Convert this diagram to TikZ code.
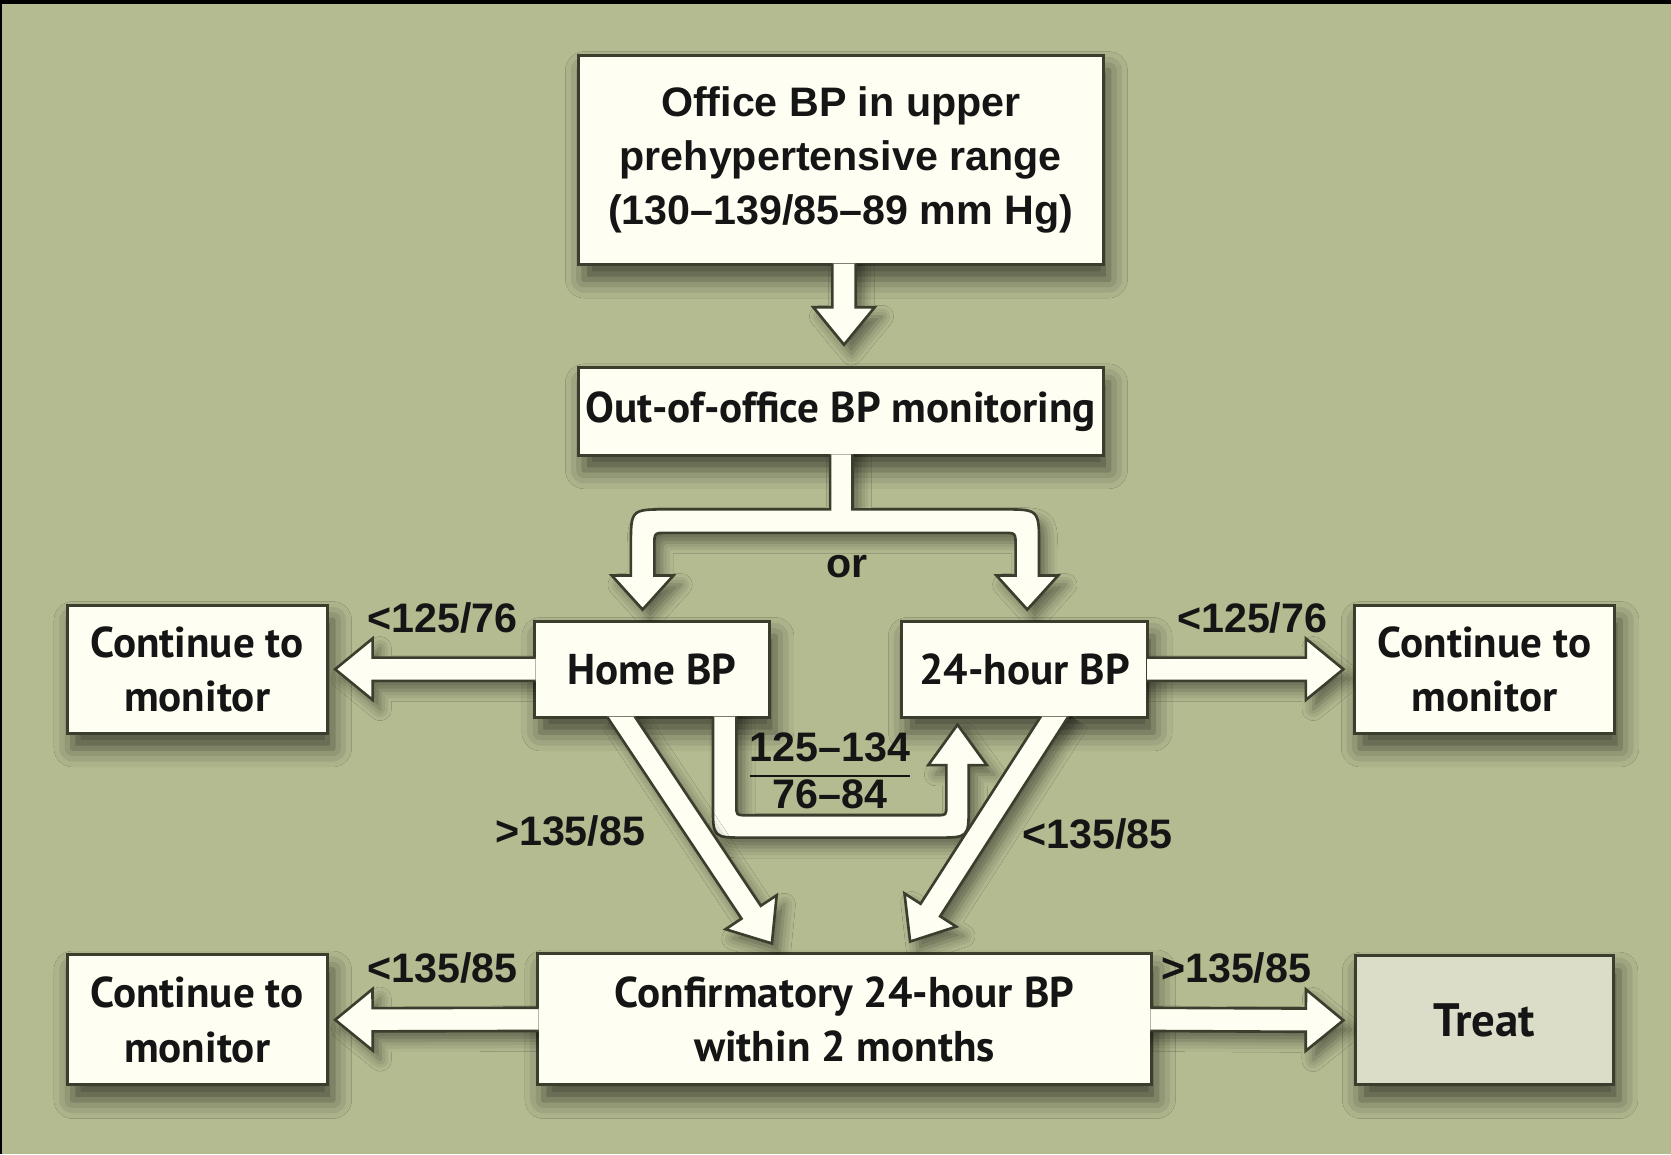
\documentclass[tikz,border=0pt]{standalone}
\usepackage{fontspec}
\setmainfont{Liberation Sans}
\newfontfamily\boxfont{PT Sans}
\usetikzlibrary{calc,shadows.blur}
\definecolor{bgolive}{HTML}{B4BB91}
\definecolor{boxcream}{HTML}{FFFEF3}
\definecolor{treatgray}{HTML}{DCDDC9}
\definecolor{edgedark}{HTML}{3B3D2D}
\definecolor{inkblack}{HTML}{151515}

\begin{document}
\begin{tikzpicture}[x=0.01cm, y=-0.01cm,
    box/.style={rectangle, draw=edgedark, line width=0.8pt, fill=boxcream, text=inkblack, align=center, inner sep=0pt,
        font=\boxfont\bfseries\fontsize{11.5}{14.5}\selectfont,
        blur shadow={shadow xshift=1.5pt, shadow yshift=-4pt, shadow blur radius=5pt, shadow opacity=60}},
    bpval/.style={text=inkblack, font=\bfseries\fontsize{11}{13}\selectfont},
    bigarrow/.style={fill=boxcream, draw=edgedark, line width=0.7pt, line join=miter,
        blur shadow={shadow xshift=2pt, shadow yshift=-2.5pt, shadow blur radius=3pt, shadow opacity=45}},
    straight/.style={bigarrow, to path={let \p1=(\tikztostart), \p2=(\tikztotarget),
        \n1={atan2(\y2-\y1,\x2-\x1)}, \n2={veclen(\x2-\x1,\y2-\y1)} in
        {[shift={(\p1)}, rotate=\n1]
        (0pt,-3.1pt) -- ({\n2*1pt-10pt},-3.1pt) -- ({\n2*1pt-10pt},-8.2pt) -- ({\n2*1pt},0pt)
        -- ({\n2*1pt-10pt},8.2pt) -- ({\n2*1pt-10pt},3.1pt) -- (0pt,3.1pt)}}}]

    % frame
    \fill[black] (0,0) rectangle (1568,1083);
    \fill[bgolive] (2,4) rectangle (1568,1083);

    % boxes
    \node[box, minimum width=4.92cm, minimum height=1.96cm, font=\bfseries\fontsize{11}{14.5}\selectfont] (1) at (789,150) {Office BP in upper\\prehypertensive range\\(130–139/85–89 mm Hg)};
    \node[box, minimum width=4.92cm, minimum height=0.82cm] (2) at (789,386) {Out-of-office BP monitoring};
    \node[box, minimum width=2.2cm, minimum height=0.9cm] (3) at (612,628) {Home BP};
    \node[box, minimum width=2.31cm, minimum height=0.9cm] (4) at (961.5,628) {24-hour BP};
    \node[box, minimum width=2.44cm, minimum height=1.2cm] (5) at (185,628) {Continue to\\monitor};
    \node[box, minimum width=2.44cm, minimum height=1.2cm] (6) at (1393,628) {Continue to\\monitor};
    \node[box, minimum width=5.75cm, minimum height=1.23cm] (7) at (792.5,956.5) {Confirmatory 24-hour BP\\within 2 months};
    \node[box, minimum width=2.44cm, minimum height=1.22cm] (8) at (185,957) {Continue to\\monitor};
    \node[box, fill=treatgray, minimum width=2.42cm, minimum height=1.21cm, font=\boxfont\bfseries\fontsize{12.5}{15}\selectfont] (9) at (1393,957.5) {Treat};

    % arrows
    \begin{scope}[even odd rule]
        \clip (0,0) rectangle (1568,1083)
            \foreach \b in {1,...,9}{ ($(\b.south west)+(2,-2)$) rectangle ($(\b.north east)+(-2,2)$) };
        \draw[straight] ($(1.south)+(3,-10)$) to ($(1.south)+(3,74)$);
        \draw[bigarrow] (779,415) -- (779,478) -- (626,478) .. controls (592,478) .. (592,512) -- (592,540)
            -- (574,540) -- (603,572) -- (632,540) -- (614,540) -- (614,512) .. controls (614,500) .. (626,500)
            -- (941,500) .. controls (953,500) .. (953,512) -- (953,540) -- (935,540) -- (964,572) -- (993,540)
            -- (975,540) -- (975,512) .. controls (975,478) .. (941,478) -- (800,478) -- (800,415);
        \draw[bigarrow] (669,660) -- (669,756) .. controls (669,786) .. (699,786) -- (879,786)
            .. controls (909,786) .. (909,756) -- (909,718) -- (926,718) -- (898.5,680) -- (871,718) -- (888,718)
            -- (888,756) .. controls (888,765) .. (879,765) -- (700,765) .. controls (691,765) .. (691,756) -- (691,660);
        \draw[straight] ($(3.west)+(10,0)$) to ($(5.east)+(6,0)$);
        \draw[straight] ($(4.east)+(-10,0)$) to ($(6.west)+(-9,0)$);
        \draw[straight] ($(3.south)+(-36,-12)$) to ($(7.north)+(-68,-8)$);
        \draw[straight] ($(4.south)+(34.5,-12)$) to ($(7.north)+(61.5,-10)$);
        \draw[straight] ($(7.west)+(10,0)$) to ($(8.east)+(6,0)$);
        \draw[straight] ($(7.east)+(-10,0)$) to ($(9.west)+(-10,0)$);
    \end{scope}

    % values
    \node[bpval] (10) at (795,532) {or};
    \node[bpval] (11) at (415,580) {<125/76};
    \node[bpval] (12) at (1175,580) {<125/76};
    \node[bpval] (13) at (535,780) {>135/85};
    \node[bpval] (14) at (1030,783) {<135/85};
    \node[bpval] (15) at (415,908) {<135/85};
    \node[bpval] (16) at (1160,908) {>135/85};
    \node[bpval, inner sep=0pt] (17) at (779,728) {\renewcommand\arraystretch{0.95}\begin{tabular}{@{}c@{}}125–134\\\hline 76–84\end{tabular}};
\end{tikzpicture}
\end{document}
